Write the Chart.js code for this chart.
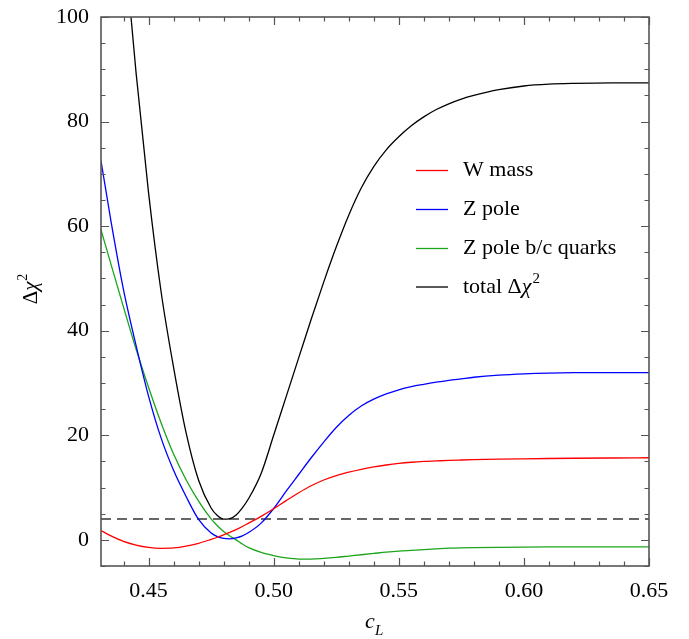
<!DOCTYPE html>
<html>
<head>
<meta charset="utf-8">
<script src="https://cdn.jsdelivr.net/npm/chart.js@4/dist/chart.umd.min.js"></script>
<style>
  html, body { margin: 0; padding: 0; background: #fff; }
  #wrap { width: 689px; height: 639px; }
</style>
</head>
<body>
<div id="wrap"><canvas id="chart"></canvas></div>
<script>
// data
const cL = [0.431, 0.435, 0.44, 0.445, 0.45, 0.455, 0.46, 0.465, 0.47, 0.475,
  0.4775, 0.48, 0.4825, 0.485, 0.4875, 0.49, 0.495, 0.50, 0.505, 0.51,
  0.515, 0.52, 0.525, 0.53, 0.535, 0.54, 0.545, 0.55, 0.555, 0.56,
  0.565, 0.57, 0.575, 0.58, 0.59, 0.60, 0.61, 0.62, 0.635, 0.65]

const wMass = [1.8, 0.75, -0.3, -1.0, -1.45, -1.62, -1.55, -1.2, -0.65, 0.1,
  0.5, 0.95, 1.45, 1.95, 2.55, 3.2, 4.5, 5.95, 7.5, 9.0,
  10.35, 11.45, 12.3, 12.95, 13.5, 13.95, 14.32, 14.62, 14.84, 15.0,
  15.1, 15.2, 15.27, 15.33, 15.43, 15.5, 15.56, 15.61, 15.66, 15.7]

const zPole = [72.5, 60.9, 47.8, 37.2, 27.5, 19.5, 13.3, 8.3, 3.9, 1.3,
  0.6, 0.28, 0.2, 0.38, 0.77, 1.4, 3.2, 6.0, 9.3, 12.5,
  15.7, 18.7, 21.5, 23.8, 25.6, 26.9, 27.9, 28.7, 29.3, 29.75,
  30.15, 30.5, 30.8, 31.1, 31.5, 31.75, 31.9, 31.97, 32.0, 32.0]

const zPoleBC = [59.3, 52.7, 44.5, 36.5, 29.2, 22.4, 16.4, 11.5, 7.4, 4.0,
  2.7, 1.6, 0.75, 0.0, -0.8, -1.5, -2.4, -3.0, -3.45, -3.68,
  -3.68, -3.55, -3.35, -3.1, -2.85, -2.6, -2.35, -2.15, -2.0, -1.85,
  -1.72, -1.6, -1.53, -1.48, -1.42, -1.38, -1.36, -1.35, -1.35, -1.35]

const total = [171, 145.7, 115.7, 89.4, 66.4, 47.5, 33, 20.5, 11.4, 6.1,
  4.65, 3.95, 4.05, 4.75, 6.1, 7.9, 12.7, 20.0, 27.4, 34.8,
  42.2, 49.3, 56.0, 62.1, 67.3, 71.4, 74.6, 77.1, 79.2, 80.9,
  82.3, 83.4, 84.3, 85.0, 86.1, 86.8, 87.15, 87.3, 87.4, 87.4]

const limit = [4, 4]
const limitX = [0.431, 0.65]

const xTicks = [0.45, 0.50, 0.55, 0.60, 0.65]
const yTicks = [0, 20, 40, 60, 80, 100]

const labels = ['W mass', 'Z pole', 'Z pole b/c quarks', 'total Δχ²']
const colors = ['#ff0000', '#0000ff', '#1aa51a', '#000000']

const serif = '"Liberation Serif", "DejaVu Serif", serif'

function pts(ys) {
  return ys.map((y, i) => ({ x: cL[i], y: y }))
}

// draws text, with χ in italic and ² as a raised small 2
function drawRich(ctx, text, x, y, size) {
  ctx.textAlign = 'left'
  ctx.textBaseline = 'middle'
  for (const ch of text) {
    if (ch === '²') {
      ctx.font = Math.round(size * 0.68) + 'px ' + serif
      ctx.fillText('2', x + 1, y - size * 0.38)
      x += ctx.measureText('2').width + 1
    } else {
      ctx.font = (ch === 'χ' ? 'italic ' : '') + size + 'px ' + serif
      ctx.fillText(ch, x, y)
      x += ctx.measureText(ch).width
    }
  }
  return x
}

function richWidth(ctx, text, size) {
  let w = 0
  for (const ch of text) {
    if (ch === '²') {
      ctx.font = Math.round(size * 0.68) + 'px ' + serif
      w += ctx.measureText('2').width + 1
    } else {
      ctx.font = (ch === 'χ' ? 'italic ' : '') + size + 'px ' + serif
      w += ctx.measureText(ch).width
    }
  }
  return w
}

const framePlugin = {
  id: 'frame',
  afterDraw(chart) {
    const ctx = chart.ctx
    const a = chart.chartArea
    const xs = chart.scales.x
    const ys = chart.scales.y
    ctx.save()
    ctx.strokeStyle = '#555'
    ctx.lineWidth = 1.2

    // ticks inside, on all four sides
    ctx.beginPath()
    for (let k = 44; k <= 65; k++) {
      const v = k / 100
      const px = Math.round(xs.getPixelForValue(v)) + 0.5
      const len = (k % 5 === 0) ? 8 : 4.5
      ctx.moveTo(px, a.bottom); ctx.lineTo(px, a.bottom - len)
      ctx.moveTo(px, a.top); ctx.lineTo(px, a.top + len)
    }
    for (let v = -5; v <= 100; v += 5) {
      const py = Math.round(ys.getPixelForValue(v)) + 0.5
      const len = (v % 20 === 0) ? 8 : 4.5
      ctx.moveTo(a.left, py); ctx.lineTo(a.left + len, py)
      ctx.moveTo(a.right, py); ctx.lineTo(a.right - len, py)
    }
    ctx.stroke()

    ctx.lineWidth = 1.6
    ctx.strokeStyle = '#555'
    ctx.strokeRect(a.left, a.top, a.right - a.left, a.bottom - a.top)

    // legend
    ctx.fillStyle = '#000'
    const rowY = [170.5, 209.5, 248.5, 287]
    labels.forEach((lab, i) => {
      ctx.strokeStyle = colors[i]
      ctx.lineWidth = 1.3
      ctx.beginPath()
      ctx.moveTo(416, rowY[i]); ctx.lineTo(448, rowY[i])
      ctx.stroke()
      drawRich(ctx, lab, 463, rowY[i], 22)
    })

    // y title
    ctx.save()
    ctx.translate(31, 289)
    ctx.rotate(-Math.PI / 2)
    const t = 'Δχ²'
    drawRich(ctx, t, -richWidth(ctx, t, 21) / 2, 0, 21)
    ctx.restore()

    // x title c_L
    ctx.textBaseline = 'alphabetic'
    ctx.textAlign = 'left'
    ctx.font = 'italic 22px ' + serif
    ctx.fillText('c', 365, 628)
    ctx.font = 'italic 15px ' + serif
    ctx.fillText('L', 375, 635)
    ctx.restore()
  }
}

const datasets = [wMass, zPole, zPoleBC, total].map((ys, i) => ({
  label: labels[i],
  data: pts(ys),
  borderColor: colors[i],
  borderWidth: 1.3,
  pointRadius: 0,
  cubicInterpolationMode: 'monotone',
  fill: false,
}))

datasets.push({
  label: 'Δχ² = 4',
  data: limitX.map((x, i) => ({ x: x, y: limit[i] })),
  borderColor: '#666',
  borderWidth: 2,
  borderDash: [10, 6],
  pointRadius: 0,
  fill: false,
})

new Chart(document.getElementById('chart'), {
  type: 'line',
  data: { datasets: datasets },
  plugins: [framePlugin],
  options: {
    responsive: true,
    maintainAspectRatio: false,
    animation: false,
    layout: { padding: { top: 17, right: 40, left: 0, bottom: 0 } },
    plugins: {
      legend: { display: false },
      tooltip: { enabled: false },
    },
    scales: {
      x: {
        type: 'linear',
        min: 0.431,
        max: 0.65,
        grid: { display: false, drawTicks: false },
        border: { display: false },
        afterBuildTicks: (s) => { s.ticks = xTicks.map(v => ({ value: v })) },
        afterFit: (s) => { s.height = 73; s.paddingLeft = 0; s.paddingRight = 0 },
        ticks: {
          color: '#000',
          padding: 12,
          maxRotation: 0,
          font: { family: serif, size: 22 },
          callback: (v) => v.toFixed(2),
        },
      },
      y: {
        min: -5,
        max: 100,
        grid: { display: false, drawTicks: false },
        border: { display: false },
        afterBuildTicks: (s) => { s.ticks = yTicks.map(v => ({ value: v })) },
        afterFit: (s) => { s.width = 101; s.paddingTop = 0; s.paddingBottom = 0 },
        ticks: {
          color: '#000',
          padding: 12,
          font: { family: serif, size: 22 },
        },
      },
    },
  },
})
</script>
</body>
</html>
